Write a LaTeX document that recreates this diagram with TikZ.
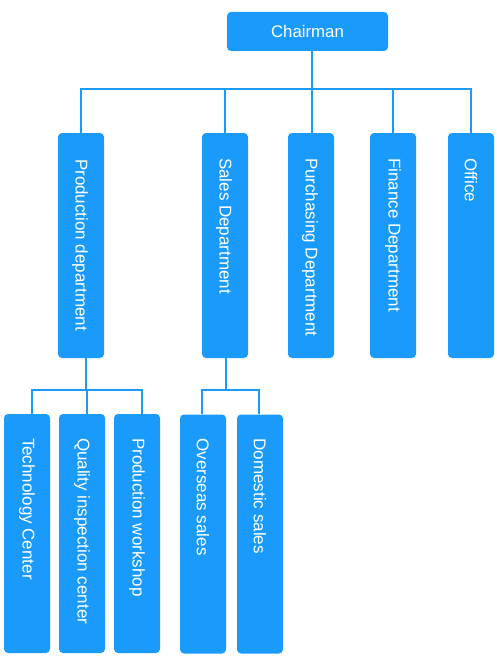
\documentclass[tikz,border=0pt]{standalone}
\usepackage{fontspec}
\setmainfont{Liberation Sans}
\usepackage{xcolor}
\definecolor{orgblue}{RGB}{26,155,252}

\begin{document}
\begin{tikzpicture}[x=1pt, y=-1pt,
    dept/.style = {fill=orgblue, rounded corners=4pt, inner sep=0pt, minimum width=46pt, minimum height=225pt},
    sub/.style = {fill=orgblue, rounded corners=4pt, inner sep=0pt, minimum width=46pt, minimum height=239pt},
    vtext/.style = {rotate=-90, anchor=west, inner sep=0pt, text=white, font=\fontsize{17}{18}\selectfont},
    link/.style = {draw=orgblue, line width=2pt}]
                \useasboundingbox (0,0) rectangle (497,661);

                \node[fill=orgblue, rounded corners=4pt, minimum width=161pt, minimum height=39pt, text=white, font=\fontsize{16.8}{18}\selectfont] (chair) at (307.5,31.5) {Chairman};

                \node[dept] (prod) at (81,245.5) {};
                \node[dept] (sales) at (225,245.5) {};
                \node[dept] (purch) at (311,245.5) {};
                \node[dept] (fin) at (393,245.5) {};
                \node[dept] (office) at (471,245.5) {};
                \node[vtext] (prodtxt) at ([xshift=-1pt,yshift=-26pt]prod.north) {Production department};
                \node[vtext] (salestxt) at ([xshift=-1pt,yshift=-25pt]sales.north) {Sales Department};
                \node[vtext] (purchtxt) at ([xshift=-1pt,yshift=-25pt]purch.north) {Purchasing Department};
                \node[vtext] (fintxt) at ([yshift=-25pt]fin.north) {Finance Department};
                \node[vtext] (officetxt) at ([yshift=-25pt]office.north) {Office};

                \node[sub] (tech) at (27,533.5) {};
                \node[sub] (qual) at (82,533.5) {};
                \node[sub] (shop) at (137,533.5) {};
                \node[sub] (over) at (203,534) {};
                \node[sub] (dom) at (260,534) {};
                \node[vtext] (techtxt) at ([yshift=-24pt]tech.north) {Technology Center};
                \node[vtext] (qualtxt) at ([yshift=-24pt]qual.north) {Quality inspection center};
                \node[vtext] (shoptxt) at ([yshift=-24pt]shop.north) {Production workshop};
                \node[vtext] (overtxt) at ([yshift=-24pt]over.north) {Overseas sales};
                \node[vtext] (domtxt) at ([yshift=-24pt]dom.north) {Domestic sales};

                \coordinate (hub) at (312,89);
                \coordinate (prodhub) at (86,390);
                \coordinate (saleshub) at (226,390);

                \draw[link] (chair.south -| hub) -- (hub);
                \draw[link] (prod.north) |- (hub);
                \draw[link] (sales.north) |- (hub);
                \draw[link] (purch.north -| hub) -- (hub);
                \draw[link] (fin.north) |- (hub);
                \draw[link] (office.north) |- (hub);

                \draw[link] (prod.south -| prodhub) -- (prodhub);
                \draw[link] ([xshift=4.5pt]tech.north) |- (prodhub);
                \draw[link] ([xshift=4.5pt]qual.north) |- (prodhub);
                \draw[link] ([xshift=4.5pt]shop.north) |- (prodhub);

                \draw[link] (sales.south -| saleshub) -- (saleshub);
                \draw[link] ([xshift=-1pt]over.north) |- (saleshub);
                \draw[link] ([xshift=-1pt]dom.north) |- (saleshub);
            \end{tikzpicture}
\end{document}
